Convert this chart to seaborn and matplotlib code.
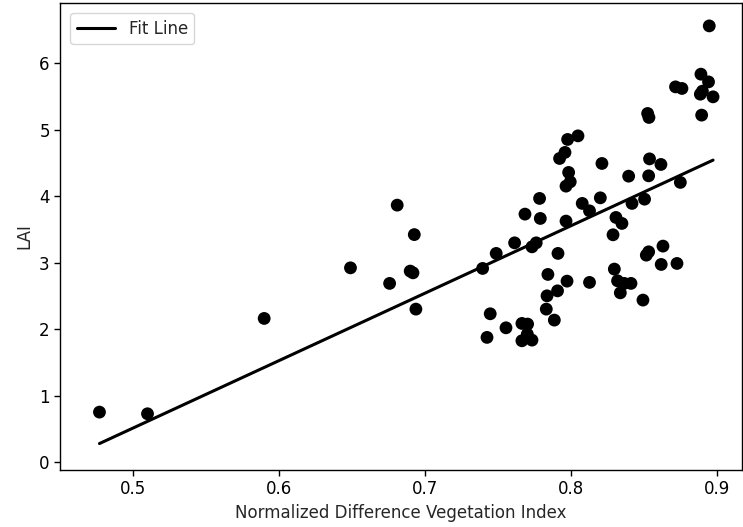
import numpy as np
import pandas as pd
import matplotlib
matplotlib.use("Agg")
import matplotlib.pyplot as plt
import seaborn as sns

# NDVI and LAI observations
ndvi = [0.4771, 0.5100, 0.5899, 0.6490, 0.6758, 0.6810, 0.6899, 0.6918, 0.6927, 0.6938,
        0.7395, 0.7425, 0.7447, 0.7488, 0.7555, 0.7614, 0.7664, 0.7664, 0.7685, 0.7703,
        0.7701, 0.7733, 0.7733, 0.7762, 0.7785, 0.7790, 0.7831, 0.7836, 0.7842, 0.7886,
        0.7908, 0.7911, 0.7922, 0.7959, 0.7977, 0.7973, 0.7966, 0.7966, 0.7984, 0.7995,
        0.8048, 0.8077, 0.8127, 0.8127, 0.8212, 0.8201, 0.8288, 0.8297, 0.8308, 0.8319,
        0.8338, 0.8349, 0.8365, 0.8411, 0.8395, 0.8418, 0.8493, 0.8504, 0.8516, 0.8532,
        0.8525, 0.8534, 0.8532, 0.8538, 0.8616, 0.8618, 0.8630, 0.8716, 0.8726, 0.8760,
        0.8749, 0.8890, 0.8886, 0.8900, 0.8895, 0.8942, 0.8947, 0.8973]
lai = [0.756, 0.731, 2.165, 2.926, 2.692, 3.869, 2.877, 2.851, 3.426, 2.305,
       2.917, 1.880, 2.235, 3.143, 2.024, 3.302, 2.090, 1.829, 3.734, 2.080,
       1.929, 1.839, 3.242, 3.302, 3.970, 3.669, 2.305, 2.505, 2.827, 2.140,
       2.580, 3.143, 4.571, 4.662, 4.857, 2.726, 3.629, 4.155, 4.361, 4.220,
       4.911, 3.895, 3.783, 2.707, 4.496, 3.979, 3.423, 2.907, 3.684, 2.731,
       2.550, 3.594, 2.692, 2.692, 4.305, 3.895, 2.441, 3.959, 3.117, 3.167,
       5.248, 5.188, 4.310, 4.565, 4.481, 2.977, 3.253, 5.648, 2.992, 5.624,
       4.211, 5.839, 5.538, 5.583, 5.223, 5.723, 6.565, 5.498]

df = pd.DataFrame({"NDVI": ndvi, "LAI": lai})

# least-squares linear fit
slope, intercept = np.polyfit(df["NDVI"], df["LAI"], 1)
fit = pd.DataFrame({"NDVI": np.sort(df["NDVI"].values)})
fit["LAI"] = slope * fit["NDVI"] + intercept

sns.set_style("ticks")
plt.rcParams["font.family"] = ["DejaVu Sans"]
plt.rcParams["axes.edgecolor"] = "black"
plt.rcParams["xtick.color"] = "black"
plt.rcParams["ytick.color"] = "black"

fig = plt.figure(figsize=(7.43, 5.27), dpi=100)
ax = fig.add_axes([0.081, 0.109, 0.918, 0.885])

sns.scatterplot(data=df, x="NDVI", y="LAI", color="black", s=85,
                edgecolor="none", ax=ax, zorder=2)
sns.lineplot(data=fit, x="NDVI", y="LAI", color="black", linewidth=2.2,
             label="Fit Line", ax=ax, zorder=3)

ax.set_xlim(0.4502, 0.9173)
ax.set_ylim(-0.108, 6.907)
ax.set_xticks([0.5, 0.6, 0.7, 0.8, 0.9])
ax.set_yticks([0, 1, 2, 3, 4, 5, 6])
ax.tick_params(labelsize=12, length=4, width=1)
ax.set_xlabel("Normalized Difference Vegetation Index", fontsize=12)
ax.set_ylabel("LAI", fontsize=12)
for sp in ax.spines.values():
    sp.set_linewidth(1.0)
    sp.set_visible(True)

leg = ax.legend(loc="upper left", fontsize=12, frameon=True, fancybox=True,
                handlelength=2.3, borderaxespad=0.6)
leg.get_frame().set_edgecolor("#cccccc")

fig.savefig("out.png", dpi=100)
